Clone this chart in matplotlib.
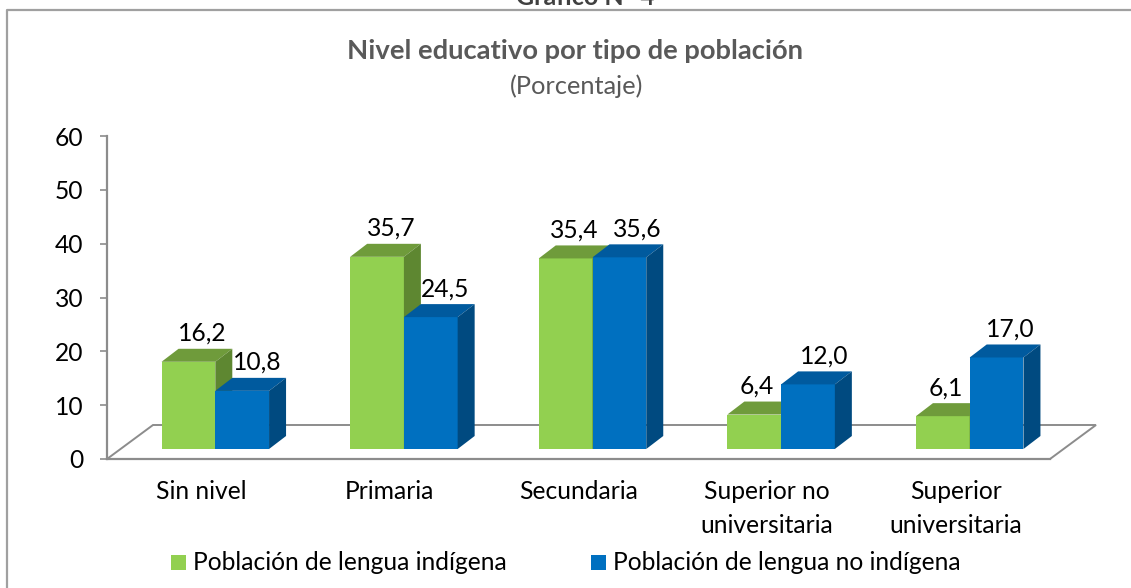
import matplotlib
matplotlib.use('Agg')
import matplotlib.pyplot as plt
from matplotlib.patches import Polygon, Rectangle
from matplotlib.lines import Line2D
from matplotlib.transforms import blended_transform_factory

categories = ['Sin nivel', 'Primaria', 'Secundaria', 'Superior no\nuniversitaria', 'Superior\nuniversitaria']
indigena = [16.2, 35.7, 35.4, 6.4, 6.1]
no_indigena = [10.8, 24.5, 35.6, 12.0, 17.0]
series_names = ['Población de lengua indígena', 'Población de lengua no indígena']
yticks = [0, 10, 20, 30, 40, 50, 60]
title = 'Nivel educativo por tipo de población'
subtitle = '(Porcentaje)'
header = 'Gráfico N° 4'

# horizontal nudges (pixels) of value labels, as placed in the original
nudge_green = [0, 0, -5, -11, -11]
nudge_blue = [1, 0, 4, 2, 0]

W, H = 1131, 588
plt.rcParams['font.family'] = ['Lato', 'DejaVu Sans']
fig = plt.figure(figsize=(W / 100, H / 100), dpi=100)

def fx(x):
    return x / W

def fy(y):
    return 1 - y / H

GRAY = '#8C8C8C'
TXT = '#000000'
FS = 17.7

green = dict(front='#92D050', top='#6F9B3B', side='#5E8731')
blue = dict(front='#0070C0', top='#005A9E', side='#004A80')

# frame
fig.add_artist(Line2D([fx(7), fx(7), fx(1131)], [fy(588), fy(9.5), fy(9.5)],
                      color='#A0A0A0', lw=1.6, transform=fig.transFigure))
fig.text(fx(585), fy(5), header, ha='center', va='baseline', fontsize=18,
         fontweight='bold', color='#404040')

fig.text(fx(575), fy(51), title, ha='center', va='center', fontsize=19.7,
         fontweight='bold', color='#595959')
fig.text(fx(577), fy(86), subtitle, ha='center', va='center', fontsize=18.3,
         color='#595959')

ax = fig.add_axes([fx(107), fy(459), (1050 - 107) / W, (459 - 136) / H])
ax.set_xlim(-0.5, len(categories) - 0.5)
ax.set_ylim(0, 60)
ax.patch.set_visible(False)
for s in ['top', 'right']:
    ax.spines[s].set_visible(False)
for s in ['left', 'bottom']:
    ax.spines[s].set_color(GRAY)
    ax.spines[s].set_linewidth(1.6)
ax.set_yticks(yticks)
ax.set_yticklabels([str(t) for t in yticks], fontsize=FS, color=TXT)
ax.tick_params(axis='y', length=5, width=1.2, color=GRAY, pad=12)
ax.set_xticks([])

sx = ax.bbox.width / len(categories)
sy = ax.bbox.height / 60.0

# floor
fdx, fdy = 46 / sx, 34 / sy
floor = Polygon([(-0.5, 0), (4.5, 0), (4.5 + fdx, fdy), (-0.5 + fdx, fdy)],
                closed=True, facecolor='white', edgecolor=GRAY, lw=1.4,
                clip_on=False, zorder=1)
ax.add_patch(floor)

bw = 0.285
shx, shy = 14 / sx, 10 / sy
ddx, ddy = 17 / sx, 13 / sy

def draw_series(x0s, vals, col, z, nudges):
    ax.bar(x0s, vals, width=bw, bottom=shy, align='edge', color=col['front'],
           linewidth=0, zorder=z)
    for x0, v, n in zip(x0s, vals, nudges):
        t = shy + v
        ax.add_patch(Polygon([(x0, t), (x0 + bw, t), (x0 + bw + ddx, t + ddy),
                              (x0 + ddx, t + ddy)], closed=True,
                             facecolor=col['top'], lw=0, zorder=z, clip_on=False))
        ax.add_patch(Polygon([(x0 + bw, shy), (x0 + bw + ddx, shy + ddy),
                              (x0 + bw + ddx, t + ddy), (x0 + bw, t)], closed=True,
                             facecolor=col['side'], lw=0, zorder=z, clip_on=False))
        ax.text(x0 + bw / 2 + (14 + n) / sx, t + ddy + 4 / sy,
                f'{v:.1f}'.replace('.', ','), ha='center', va='bottom',
                fontsize=FS, color=TXT, zorder=6)

xs = list(range(len(categories)))
draw_series([i - bw + shx for i in xs], indigena, green, 3, nudge_green)
draw_series([i + shx for i in xs], no_indigena, blue, 4, nudge_blue)

trans = blended_transform_factory(ax.transData, fig.transFigure)
for i, c in enumerate(categories):
    ax.text(i, fy(480), c, ha='center', va='top', fontsize=FS, color=TXT,
            transform=trans, linespacing=1.6)

# legend
for (x0, name, col) in [(171, series_names[0], green), (591, series_names[1], blue)]:
    fig.add_artist(Rectangle((fx(x0), fy(570)), 15 / W, 15 / H,
                             transform=fig.transFigure, facecolor=col['front'],
                             edgecolor='none'))
    fig.text(fx(x0 + 22), fy(563), name, ha='left', va='center', fontsize=FS,
             color=TXT)

fig.savefig('out.png', dpi=100)
